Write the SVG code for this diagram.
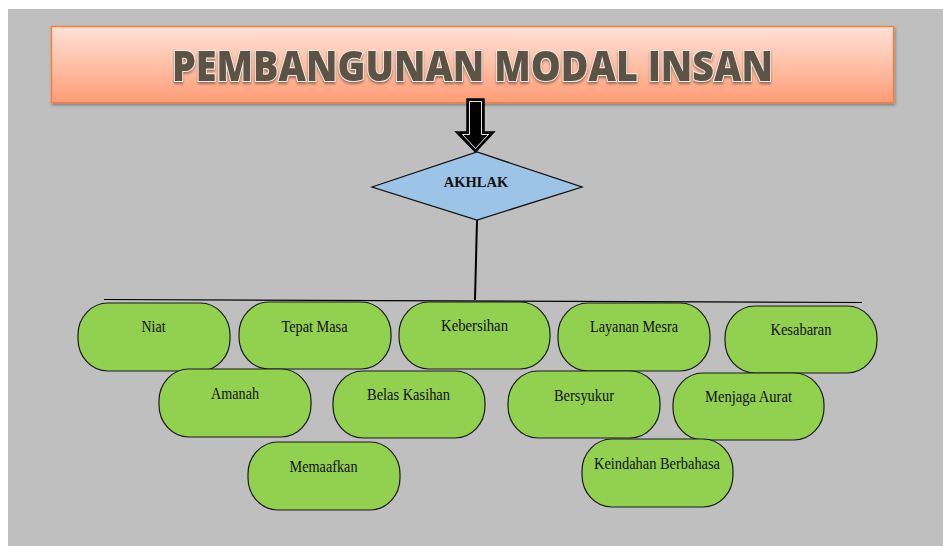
<svg xmlns="http://www.w3.org/2000/svg" width="943" height="546" viewBox="0 0 943 546">
<defs>
<linearGradient id="bannerGrad" x1="0" y1="0" x2="0" y2="1">
<stop offset="0" stop-color="#FFE0D6"/>
<stop offset="0.5" stop-color="#FFC0A8"/>
<stop offset="1" stop-color="#FF9C76"/>
</linearGradient>
<filter id="shadow" x="-5%" y="-20%" width="110%" height="150%">
<feGaussianBlur in="SourceAlpha" stdDeviation="1.5"/>
<feOffset dx="1" dy="2" result="b"/>
<feFlood flood-color="#000" flood-opacity="0.35"/>
<feComposite in2="b" operator="in"/>
<feMerge><feMergeNode/><feMergeNode in="SourceGraphic"/></feMerge>
</filter>
<filter id="textShadow" x="-5%" y="-30%" width="110%" height="160%">
<feGaussianBlur in="SourceAlpha" stdDeviation="1.2"/>
<feOffset dx="0" dy="1.5" result="b"/>
<feFlood flood-color="#3a2a20" flood-opacity="0.5"/>
<feComposite in2="b" operator="in"/>
<feMerge><feMergeNode/><feMergeNode in="SourceGraphic"/></feMerge>
</filter>
</defs>
<style>
.pill{fill:#92D050;stroke:#1a1a1a;stroke-width:1.2}
.lbl{font-family:"Liberation Serif","Times New Roman",serif;font-size:16px;fill:#111;text-anchor:middle}
.conn{stroke:#000;fill:none}
</style>
<rect x="0" y="0" width="943" height="546" fill="#FFFFFF"/>
<rect x="8" y="9" width="935" height="537" fill="#BFBFBF"/>

<g id="banner">
<rect x="51.5" y="26.5" width="842" height="76" fill="url(#bannerGrad)" stroke="#F58140" stroke-width="1.5" filter="url(#shadow)"/>
<text x="472.5" y="81" text-anchor="middle" textLength="601" lengthAdjust="spacingAndGlyphs" font-family="'Open Sans','DejaVu Sans',sans-serif" font-weight="800" font-size="43" fill="#5C5345" stroke="#F3EDE6" stroke-width="2" paint-order="stroke" filter="url(#textShadow)">PEMBANGUNAN MODAL INSAN</text>
</g>

<g id="connectors">
<polygon points="467,99 484,99 484,132 494,132 475.5,152 456,132 467,132" fill="#000" stroke="#000" stroke-width="1.5"/>
<polygon points="469.5,101.5 481.5,101.5 481.5,134.5 488.5,134.5 475.5,148.5 462.5,134.5 469.5,134.5" fill="none" stroke="#FFFFFF" stroke-width="0.9"/>
<line class="conn" x1="477" y1="220" x2="475" y2="300" stroke-width="2"/>
<line class="conn" x1="104" y1="299.5" x2="862" y2="302.5" stroke-width="1.2"/>
</g>

<g id="akhlak">
<polygon points="372,187 477,152 582,187 477,220" fill="#9DC3E6" stroke="#111" stroke-width="1.3"/>
<text x="476" y="187" text-anchor="middle" font-family="'Liberation Serif','Times New Roman',serif" font-weight="bold" font-size="14.5" fill="#111">AKHLAK</text>
</g>

<g id="niat"><rect class="pill" x="78" y="303" width="152" height="68" rx="30" ry="32"/><text class="lbl" x="153.5" y="332" textLength="24" lengthAdjust="spacingAndGlyphs">Niat</text></g>
<g id="tepat-masa"><rect class="pill" x="239" y="302" width="152" height="67" rx="30" ry="32"/><text class="lbl" x="314.5" y="332" textLength="66" lengthAdjust="spacingAndGlyphs">Tepat Masa</text></g>
<g id="kebersihan"><rect class="pill" x="399" y="302" width="151" height="67" rx="30" ry="32"/><text class="lbl" x="474.5" y="331" textLength="67" lengthAdjust="spacingAndGlyphs">Kebersihan</text></g>
<g id="layanan-mesra"><rect class="pill" x="558" y="303" width="152" height="68" rx="30" ry="32"/><text class="lbl" x="634" y="332" textLength="88" lengthAdjust="spacingAndGlyphs">Layanan Mesra</text></g>
<g id="kesabaran"><rect class="pill" x="725" y="306" width="152" height="67" rx="30" ry="32"/><text class="lbl" x="801" y="335" textLength="61" lengthAdjust="spacingAndGlyphs">Kesabaran</text></g>
<g id="amanah"><rect class="pill" x="159" y="369" width="152" height="68" rx="30" ry="32"/><text class="lbl" x="235" y="399" textLength="48" lengthAdjust="spacingAndGlyphs">Amanah</text></g>
<g id="belas-kasihan"><rect class="pill" x="333" y="371" width="152" height="67" rx="30" ry="32"/><text class="lbl" x="408.5" y="400" textLength="83" lengthAdjust="spacingAndGlyphs">Belas Kasihan</text></g>
<g id="bersyukur"><rect class="pill" x="508" y="371" width="152" height="67" rx="30" ry="32"/><text class="lbl" x="584" y="400.5" textLength="60" lengthAdjust="spacingAndGlyphs">Bersyukur</text></g>
<g id="menjaga-aurat"><rect class="pill" x="673" y="373" width="151" height="67" rx="30" ry="32"/><text class="lbl" x="748.5" y="402" textLength="87" lengthAdjust="spacingAndGlyphs">Menjaga Aurat</text></g>
<g id="memaafkan"><rect class="pill" x="248" y="442" width="152" height="68" rx="30" ry="32"/><text class="lbl" x="323.5" y="472" textLength="68" lengthAdjust="spacingAndGlyphs">Memaafkan</text></g>
<g id="keindahan-berbahasa"><rect class="pill" x="582" y="439" width="151" height="68" rx="30" ry="32"/><text class="lbl" x="657" y="469" textLength="126" lengthAdjust="spacingAndGlyphs">Keindahan Berbahasa</text></g>
</svg>
